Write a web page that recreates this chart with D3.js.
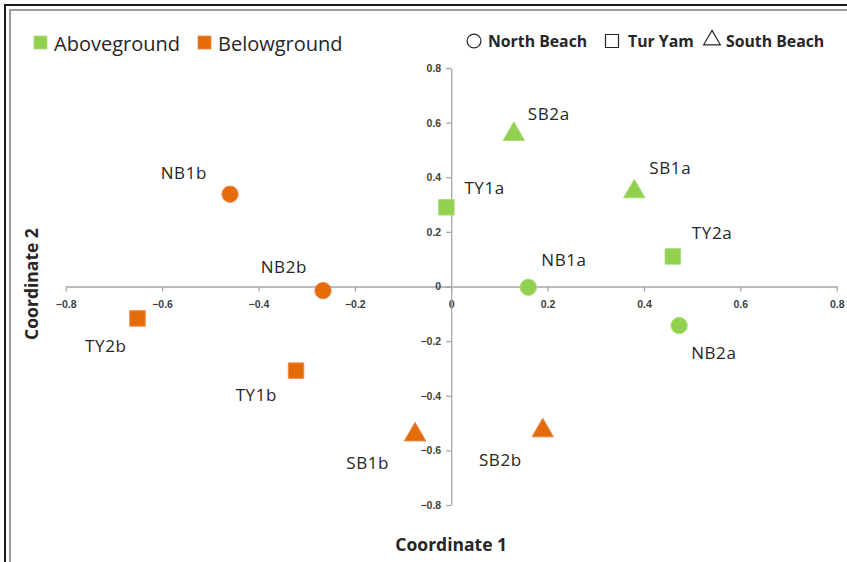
<!DOCTYPE html>
<html><head><meta charset="utf-8">
<script src="https://cdn.jsdelivr.net/npm/d3@7"></script>
<style>body{margin:0;background:#fff}svg{display:block}</style>
</head><body>
<svg id="c" width="847" height="562"></svg>
<script>
const names = ["SB2a","SB1a","TY1a","TY2a","NB1a","NB2a","NB1b","NB2b","TY2b","TY1b","SB1b","SB2b"];
const coord1 = [0.13, 0.38, -0.01, 0.46, 0.16, 0.473, -0.459, -0.266, -0.651, -0.322, -0.075, 0.19];
const coord2 = [0.55, 0.34, 0.29, 0.11, -0.003, -0.143, 0.338, -0.015, -0.117, -0.308, -0.55, -0.535];
const tissue = ["Above","Above","Above","Above","Above","Above","Below","Below","Below","Below","Below","Below"];
const site = ["South Beach","South Beach","Tur Yam","Tur Yam","North Beach","North Beach","North Beach","North Beach","Tur Yam","Tur Yam","South Beach","South Beach"];
const xTicks = [-0.8,-0.6,-0.4,-0.2,0,0.2,0.4,0.6,0.8];
const yTicks = [-0.8,-0.6,-0.4,-0.2,0,0.2,0.4,0.6,0.8];
const tissueLegend = ["Aboveground","Belowground"];
const siteLegend = ["North Beach","Tur Yam","South Beach"];

// layout (label offsets relative to marker, in px)
const labelOffset = {
  SB2a:[14,-23,"start"], SB1a:[15,-26,"start"], TY1a:[18,-20,"start"], TY2a:[19,-24,"start"],
  NB1a:[13,-28,"start"], NB2a:[12,27,"start"], NB1b:[-23,-22,"end"], NB2b:[-16,-24,"end"],
  TY2b:[-11,27,"end"], TY1b:[-19,24,"end"], SB1b:[-26,26,"end"], SB2b:[-21,27,"end"]
};
const colors = {Above:"#92d050", Below:"#e36c09"};
const strokes = {Above:"#a9dc78", Below:"#f0894a"};
const symbols = {"North Beach":d3.symbolCircle, "Tur Yam":d3.symbolSquare, "South Beach":d3.symbolTriangle};
const symSize = {"North Beach":210, "Tur Yam":240, "South Beach":200};

const svg = d3.select("#c");
const x = d3.scaleLinear().domain([-0.8,0.8]).range([65.7,836.7]);
const y = d3.scaleLinear().domain([-0.8,0.8]).range([505,68]);

// frame
svg.append("rect").attr("x",5).attr("y",5).attr("width",900).attr("height",600).attr("fill","none").attr("stroke","#1a1a1a").attr("stroke-width",2);
svg.append("rect").attr("x",10).attr("y",10).attr("width",900).attr("height",600).attr("fill","none").attr("stroke","#9a9a9a").attr("stroke-width",2);

const tickFont = "'Liberation Sans', Arial, sans-serif";
const gx = svg.append("g").attr("transform",`translate(0,${y(0)})`)
  .call(d3.axisBottom(x).tickValues(xTicks).tickSize(5).tickSizeOuter(0).tickFormat(d=>d3.format("")(+d.toFixed(1))));
const gy = svg.append("g").attr("transform",`translate(${x(0)},0)`)
  .call(d3.axisLeft(y).tickValues(yTicks).tickSize(5).tickSizeOuter(0).tickFormat(d=>d3.format("")(+d.toFixed(1))));
[gx,gy].forEach(g=>{
  g.select(".domain").attr("stroke","#a6a6a6").attr("stroke-width",1.3);
  g.selectAll(".tick line").attr("stroke","#a6a6a6").attr("stroke-width",1.3);
  g.selectAll(".tick text").attr("fill","#404040").attr("font-family",tickFont).attr("font-size",10.5).attr("font-weight","bold");
});
gx.selectAll(".tick text").attr("dy","1.25em");
gy.selectAll(".tick text").attr("x",-10);

// axis titles
const titleFont = "'Open Sans', sans-serif";
svg.append("text").attr("x",x(0)).attr("y",551).attr("text-anchor","middle")
  .attr("font-family",titleFont).attr("font-weight","bold").attr("font-size",17.5).attr("fill","#262626").text("Coordinate 1");
svg.append("text").attr("transform",`translate(38,${284}) rotate(-90)`).attr("text-anchor","middle")
  .attr("font-family",titleFont).attr("font-weight","bold").attr("font-size",17.5).attr("fill","#262626").text("Coordinate 2");

// points
const data = names.map((n,i)=>({name:n, c1:coord1[i], c2:coord2[i], tissue:tissue[i], site:site[i]}));
const pts = svg.append("g").selectAll("g").data(data).join("g")
  .attr("transform",d=>`translate(${x(d.c1)},${y(d.c2)})`);
pts.append("path")
  .attr("d",d=>d3.symbol().type(symbols[d.site]).size(symSize[d.site])())
  .attr("transform",d=>d.site==="South Beach"?"translate(0,-2)":null)
  .attr("fill",d=>colors[d.tissue]).attr("stroke",d=>strokes[d.tissue]).attr("stroke-width",1);
pts.append("text")
  .attr("x",d=>labelOffset[d.name][0]).attr("y",d=>labelOffset[d.name][1])
  .attr("text-anchor",d=>labelOffset[d.name][2]).attr("dominant-baseline","central")
  .attr("font-family",titleFont).attr("font-size",17).attr("letter-spacing",0.6).attr("fill","#262626")
  .text(d=>d.name);

// tissue legend
const lt = svg.append("g");
const ltPos = [34,198];
tissueLegend.forEach((t,i)=>{
  const k = i===0?"Above":"Below";
  lt.append("rect").attr("x",ltPos[i]).attr("y",36).attr("width",13).attr("height",13)
    .attr("fill",colors[k]).attr("stroke",strokes[k]).attr("stroke-width",0.8);
  lt.append("text").attr("x",ltPos[i]+20).attr("y",43).attr("dominant-baseline","central")
    .attr("font-family",titleFont).attr("font-size",20).attr("fill","#262626").text(t);
});
// site legend
const ls = svg.append("g");
const lsPos = [474,612,712];
siteLegend.forEach((s,i)=>{
  ls.append("path").attr("transform",`translate(${lsPos[i]},${s==="South Beach"?40:41})`)
    .attr("d",d3.symbol().type(symbols[s]).size(s==="Tur Yam"?170:s==="North Beach"?150:120)())
    .attr("fill","none").attr("stroke","#262626").attr("stroke-width",1.2);
  ls.append("text").attr("x",lsPos[i]+(s==="Tur Yam"?16:14)).attr("y",41).attr("dominant-baseline","central")
    .attr("font-family",titleFont).attr("font-weight","bold").attr("font-size",15.8).attr("fill","#262626").text(s);
});
</script>
</body></html>
